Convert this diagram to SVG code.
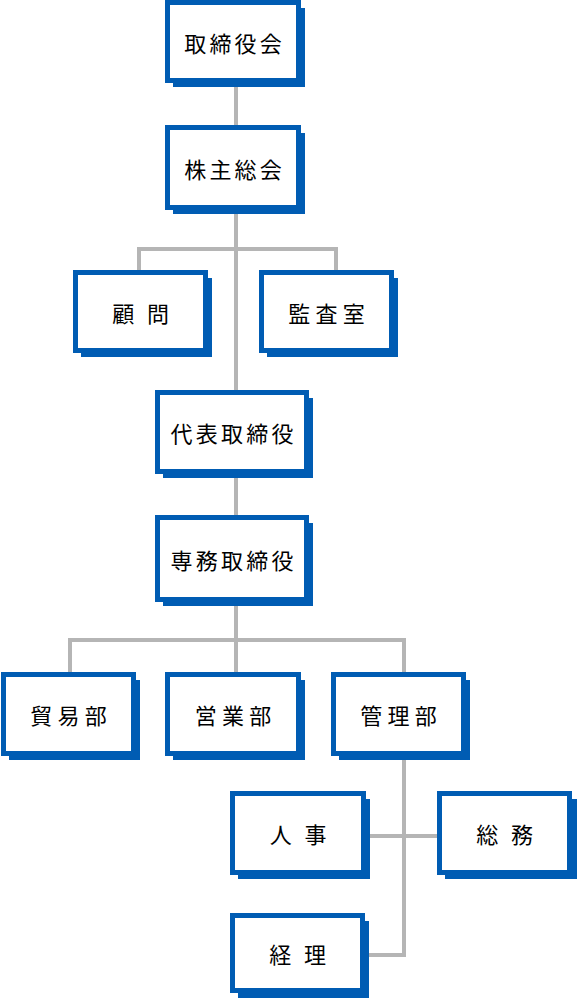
<svg xmlns="http://www.w3.org/2000/svg" width="577" height="1002" viewBox="0 0 577 1002">
<style>
.sh{fill:#005cb3}
.fr{fill:#fff;stroke:#005cb3;stroke-width:5}
.t{font-family:"Noto Sans CJK JP","Noto Sans",sans-serif;font-size:22px;fill:#000;text-anchor:middle;dominant-baseline:central;letter-spacing:3.2px}
.t3{letter-spacing:5.3px}
.t2{letter-spacing:3.9px}
.c{stroke:#b5b5b5;stroke-width:4;fill:none}
</style>
<g id="connectors">
<path class="c" d="M236 83V125"/>
<path class="c" d="M236 210V390"/>
<path class="c" d="M139 270V249H336V270"/>
<path class="c" d="M236 474V515"/>
<path class="c" d="M236 602V672"/>
<path class="c" d="M70 672V640H404V672"/>
<path class="c" d="M404 756V955H365"/>
<path class="c" d="M366 836H437"/>
</g>
<g id="n1"><rect class="sh" x="173" y="8" width="132" height="79"/><rect class="fr" x="167.5" y="2.5" width="131" height="78"/><text class="t" x="234.6" y="41.5">取締役会</text></g>
<g id="n2"><rect class="sh" x="173" y="133" width="132" height="81"/><rect class="fr" x="167.5" y="127.5" width="131" height="80"/><text class="t" x="234.6" y="167.5">株主総会</text></g>
<g id="n3"><rect class="sh" x="81" y="278" width="131" height="79"/><rect class="fr" x="75.5" y="272.5" width="130" height="78"/><text class="t t2" x="142.5" y="311.5">顧 問</text></g>
<g id="n4"><rect class="sh" x="267" y="278" width="131" height="79"/><rect class="fr" x="261.5" y="272.5" width="130" height="78"/><text class="t t3" x="329.2" y="311.5">監査室</text></g>
<g id="n5"><rect class="sh" x="163" y="398" width="150" height="80"/><rect class="fr" x="157.5" y="392.5" width="149" height="79"/><text class="t" x="233.6" y="432">代表取締役</text></g>
<g id="n6"><rect class="sh" x="163" y="523" width="150" height="83"/><rect class="fr" x="157.5" y="517.5" width="149" height="82"/><text class="t" x="233.6" y="558.5">専務取締役</text></g>
<g id="n7"><rect class="sh" x="9" y="680" width="131" height="80"/><rect class="fr" x="3.5" y="674.5" width="130" height="79"/><text class="t t3" x="71.2" y="714">貿易部</text></g>
<g id="n8"><rect class="sh" x="173" y="680" width="132" height="80"/><rect class="fr" x="167.5" y="674.5" width="131" height="79"/><text class="t t3" x="235.7" y="714">営業部</text></g>
<g id="n9"><rect class="sh" x="339" y="680" width="131" height="80"/><rect class="fr" x="333.5" y="674.5" width="130" height="79"/><text class="t t3" x="401.2" y="714">管理部</text></g>
<g id="n10"><rect class="sh" x="238" y="799" width="132" height="80"/><rect class="fr" x="232.5" y="793.5" width="131" height="79"/><text class="t t2" x="300" y="833">人 事</text></g>
<g id="n11"><rect class="sh" x="445" y="799" width="132" height="80"/><rect class="fr" x="439.5" y="793.5" width="130" height="79"/><text class="t t2" x="506.5" y="833">総 務</text></g>
<g id="n12"><rect class="sh" x="238" y="921" width="131" height="77"/><rect class="fr" x="232.5" y="915.5" width="130" height="75"/><text class="t t2" x="299.5" y="953">経 理</text></g>
</svg>
